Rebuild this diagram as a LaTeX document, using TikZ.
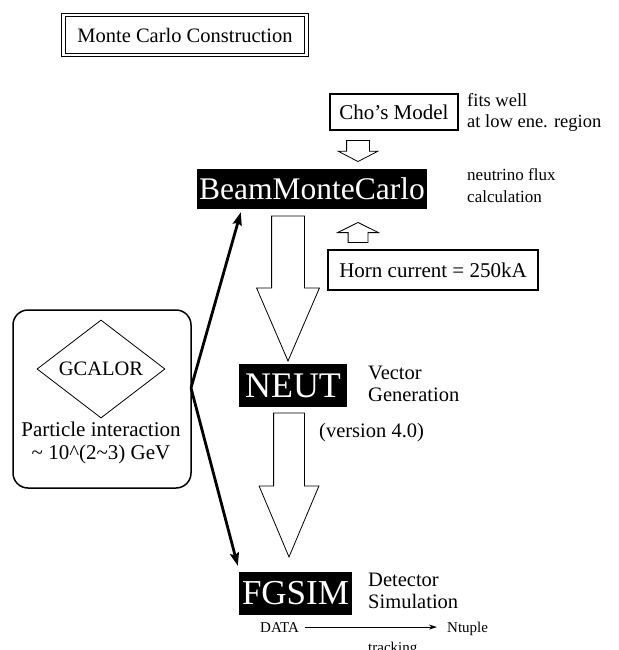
\documentclass[tikz,border=0pt]{standalone}
\usepackage{fontspec}
\setmainfont{Liberation Serif}
\usetikzlibrary{shapes.geometric,shapes.arrows,arrows.meta}

\tikzset{
  bigtext/.style={font=\fontsize{#1}{#1}\selectfont},
  blackbox/.style={fill=black, text=white, inner sep=0pt},
  framebox/.style={draw, line width=1.8pt, inner sep=0pt, bigtext=21},
  note/.style={anchor=west, align=left, inner sep=0pt},
  hollow/.style={draw, line width=0.8pt, single arrow, inner xsep=0pt},
  thickarrow/.style={line width=2.8pt, -{Stealth[length=13pt,width=9pt,inset=2pt]}}
}

\begin{document}
\begin{tikzpicture}[x=1pt,y=-1pt]
  \useasboundingbox (0,0) rectangle (618,650);

  \node[draw, double, double distance=2.6pt, line width=0.9pt, inner sep=0pt,
    minimum width=243, minimum height=40, bigtext=20.5] (title) at (185,35)
    {Monte Carlo Construction};

  \node[framebox, minimum width=128, minimum height=36] (cho) at (394,112) {Cho's Model};
  \node[note, align=left, font=\fontsize{18.5}{21}\selectfont] (fits) at (467,112)
    {fits well\\at low ene. region};

  \node[blackbox, minimum width=230, minimum height=40, bigtext=31.5] (bmc) at (312,189)
    {BeamMonteCarlo};
  \node[note, font=\fontsize{17}{22}\selectfont] (flux) at (467,186)
    {neutrino flux\\calculation};

  \node[hollow, rotate=-90, anchor=tip, minimum height=21, inner ysep=11pt,
    single arrow head extend=8.5pt, single arrow tip angle=125] (chodown) at (358,162) {};
  \node[hollow, rotate=90, anchor=tip, minimum height=20, inner ysep=9.5pt,
    single arrow head extend=10.5pt, single arrow tip angle=127] (hornup) at (358,222) {};

  \node[framebox, minimum width=210, minimum height=40] (horn) at (433,270)
    {Horn current = 250kA};

  \node[hollow, rotate=-90, anchor=tip, minimum height=145, inner ysep=16pt,
    single arrow head extend=15pt, single arrow tip angle=46.6] (flow1) at (288,362) {};

  \node[blackbox, minimum width=108, minimum height=43, bigtext=36] (neut) at (293,385.5)
    {NEUT};
  \node[note, bigtext=20.5, align=left] (vec) at (368,384) {Vector\\[1pt]Generation};
  \node[note, bigtext=20.5] (ver) at (319,433) {(version 4.0)};

  \node[hollow, rotate=-90, anchor=tip, minimum height=144, inner ysep=15pt,
    single arrow head extend=14.5pt, single arrow tip angle=45.7] (flow2) at (289,558) {};

  \node[blackbox, minimum width=113, minimum height=43, bigtext=35] (fgsim) at (295.5,593.5)
    {FGSIM};
  \node[note, bigtext=20.5, align=left] (det) at (368,591) {Detector\\[1pt]Simulation};

  \node[anchor=base west, inner sep=0pt, bigtext=15] (data) at (260,632) {DATA};
  \node[anchor=base west, inner sep=0pt, bigtext=15] (ntuple) at (447,632) {Ntuple};
  \node[anchor=base west, inner sep=0pt, bigtext=15] (track) at (368,652) {tracking};
  \draw[line width=0.9pt, -{Stealth[length=8pt,width=5pt]}, shorten <=6pt, shorten >=10pt]
    (data.east) -- (data.east -| ntuple.west);

  \node[draw, rounded corners=15pt, line width=1.5pt, minimum width=178,
    minimum height=178] (calor) at (102,399) {};
  \node[draw, diamond, line width=0.8pt, inner sep=0pt, minimum width=128,
    minimum height=78, bigtext=20.5] (gcalor) at (101,369) {GCALOR};
  \node[align=center, font=\fontsize{21}{23}\selectfont] (pint) at (101,443)
    {Particle interaction\\\textasciitilde{} 10\textasciicircum(2\textasciitilde3) GeV};

  \coordinate (fork) at (191,388);
  \draw[thickarrow] (fork) -- ([xshift=44pt,yshift=-3pt]bmc.south west);
  \draw[thickarrow] (fork) -- ([xshift=-1pt,yshift=6pt]fgsim.north west);
\end{tikzpicture}
\end{document}
